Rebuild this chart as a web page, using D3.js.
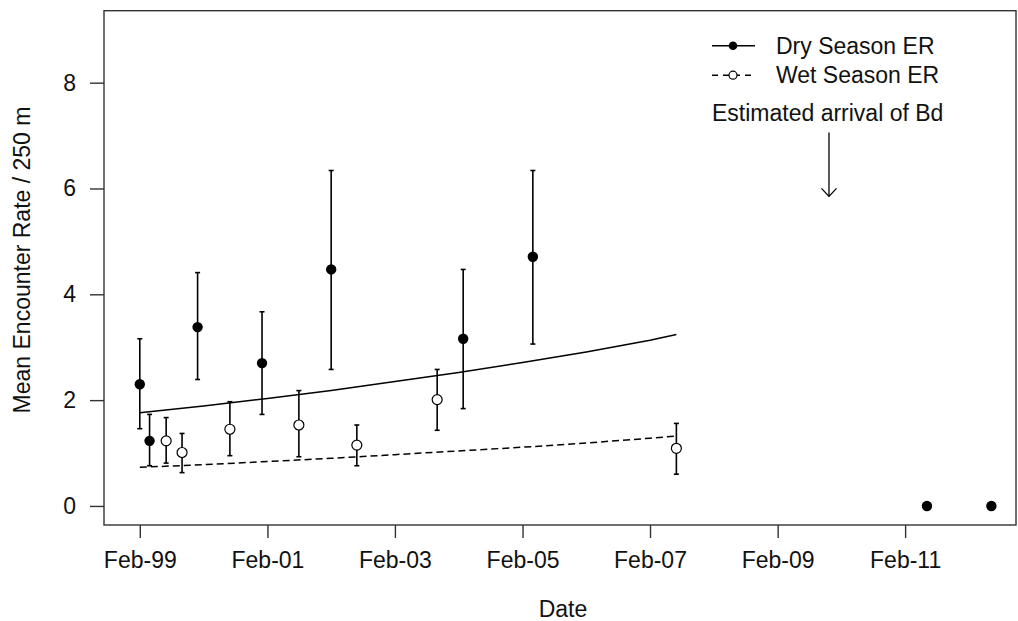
<!DOCTYPE html>
<html>
<head>
<meta charset="utf-8">
<script src="https://cdn.jsdelivr.net/npm/d3@7"></script>
<style>
  html, body { margin: 0; padding: 0; background: #fff; }
  svg { display: block; font-family: "Liberation Sans", Arial, sans-serif; }
</style>
</head>
<body>
<svg id="chart" width="1018" height="621"></svg>
<script>
// ---------- data ----------
const dryDates  = ["1999-02-01","1999-03-29","1999-12-29","2001-01-01","2002-02-01","2004-02-27","2005-04-01","2011-06-06","2012-06-09"];
const dryMean   = [2.30, 1.23, 3.38, 2.70, 4.47, 3.16, 4.71, 0, 0];
const dryLow    = [1.46, 0.76, 2.39, 1.73, 2.58, 1.84, 3.06, null, null];
const dryHigh   = [3.16, 1.73, 4.41, 3.67, 6.34, 4.47, 6.34, null, null];

const wetDates  = ["1999-07-02","1999-10-01","2000-07-01","2001-07-31","2002-06-28","2003-10-01","2007-07-02"];
const wetMean   = [1.23, 1.01, 1.45, 1.53, 1.15, 2.01, 1.09];
const wetLow    = [0.81, 0.63, 0.95, 0.93, 0.76, 1.43, 0.60];
const wetHigh   = [1.67, 1.37, 1.97, 2.18, 1.53, 2.58, 1.56];

const trendDates = ["1999-02-01","2000-02-01","2001-02-01","2002-02-01","2003-02-01","2004-02-01","2005-02-01","2006-02-01","2007-02-01","2007-07-02"];
const dryTrend   = [1.76, 1.89, 2.03, 2.18, 2.35, 2.52, 2.71, 2.91, 3.13, 3.24];
const wetTrend   = [0.73, 0.78, 0.84, 0.90, 0.97, 1.04, 1.11, 1.19, 1.28, 1.32];

const xTickDates  = ["1999-02-01","2001-02-01","2003-02-01","2005-02-01","2007-02-01","2009-02-01","2011-02-01"];
const xTickLabels = ["Feb-99","Feb-01","Feb-03","Feb-05","Feb-07","Feb-09","Feb-11"];
const yTicks      = [0, 2, 4, 6, 8];
const xDomain     = ["1998-07-11","2012-10-28"];
const yDomain     = [-0.36, 9.36];

const legendLabels = ["Dry Season ER", "Wet Season ER"];
const annotation   = "Estimated arrival of Bd";
const arrowDate    = "2009-11-22";
const arrowTop = 7.06, arrowBottom = 5.85;

// ---------- layout ----------
const parse = d3.utcParse("%Y-%m-%d");
const svg = d3.select("#chart");
const L = 104, R = 1016, T = 10.7, B = 525;
const FS = 23;

const x = d3.scaleUtc().domain(xDomain.map(parse)).range([L, R]);
const y = d3.scaleLinear().domain(yDomain).range([B, T]);

// box
svg.append("rect").attr("x", L).attr("y", T).attr("width", R - L).attr("height", B - T)
  .attr("fill", "none").attr("stroke", "#333").attr("stroke-width", 1.4);

// x axis
const xAxis = d3.axisBottom(x)
  .tickValues(xTickDates.map(parse))
  .tickFormat((d, i) => xTickLabels[i])
  .tickSize(13).tickPadding(14);
const gx = svg.append("g").attr("transform", `translate(0,${B})`).call(xAxis);
gx.select(".domain").remove();
gx.selectAll(".tick line").attr("stroke", "#333").attr("stroke-width", 1.4);
gx.selectAll(".tick text").attr("font-size", FS).attr("fill", "#111").attr("font-family", "Liberation Sans, Arial, sans-serif");

// y axis
const yAxis = d3.axisLeft(y).tickValues(yTicks).tickFormat(d3.format("d")).tickSize(14).tickPadding(14);
const gy = svg.append("g").attr("transform", `translate(${L},0)`).call(yAxis);
gy.select(".domain").remove();
gy.selectAll(".tick line").attr("stroke", "#333").attr("stroke-width", 1.4);
gy.selectAll(".tick text").attr("font-size", FS).attr("fill", "#111").attr("font-family", "Liberation Sans, Arial, sans-serif");

// axis titles
svg.append("text").attr("x", 563).attr("y", 617).attr("text-anchor", "middle")
  .attr("font-size", FS).attr("fill", "#111").text("Date");
svg.append("text").attr("transform", "translate(30,260) rotate(-90)").attr("text-anchor", "middle")
  .attr("font-size", FS).attr("fill", "#111").text("Mean Encounter Rate / 250 m");

// trend lines
const line = d3.line().x(d => x(parse(d[0]))).y(d => y(d[1]));
svg.append("path").datum(trendDates.map((d, i) => [d, dryTrend[i]]))
  .attr("d", line).attr("fill", "none").attr("stroke", "#000").attr("stroke-width", 1.5);
svg.append("path").datum(trendDates.map((d, i) => [d, wetTrend[i]]))
  .attr("d", line).attr("fill", "none").attr("stroke", "#000").attr("stroke-width", 1.5)
  .attr("stroke-dasharray", "7,4");

// error bars
function errorBars(dates, lo, hi) {
  const g = svg.append("g").attr("stroke", "#000").attr("stroke-width", 1.6);
  dates.forEach((d, i) => {
    if (lo[i] == null) return;
    const cx = x(parse(d));
    g.append("line").attr("x1", cx).attr("x2", cx).attr("y1", y(lo[i])).attr("y2", y(hi[i]));
    g.append("line").attr("x1", cx - 2.5).attr("x2", cx + 2.5).attr("y1", y(lo[i])).attr("y2", y(lo[i]));
    g.append("line").attr("x1", cx - 2.5).attr("x2", cx + 2.5).attr("y1", y(hi[i])).attr("y2", y(hi[i]));
  });
}
errorBars(dryDates, dryLow, dryHigh);
errorBars(wetDates, wetLow, wetHigh);

// points
svg.append("g").selectAll("circle").data(dryDates).join("circle")
  .attr("cx", d => x(parse(d))).attr("cy", (d, i) => y(dryMean[i])).attr("r", 5.2)
  .attr("fill", "#000");
svg.append("g").selectAll("circle").data(wetDates).join("circle")
  .attr("cx", d => x(parse(d))).attr("cy", (d, i) => y(wetMean[i])).attr("r", 5)
  .attr("fill", "#fff").attr("stroke", "#000").attr("stroke-width", 1.2);

// legend
const lg = svg.append("g");
const rowY = [45.7, 75.2];
lg.append("line").attr("x1", 712).attr("x2", 755).attr("y1", rowY[0]).attr("y2", rowY[0])
  .attr("stroke", "#000").attr("stroke-width", 1.5);
lg.append("circle").attr("cx", 733).attr("cy", rowY[0]).attr("r", 4.3).attr("fill", "#000");
lg.append("line").attr("x1", 712).attr("x2", 755).attr("y1", rowY[1]).attr("y2", rowY[1])
  .attr("stroke", "#000").attr("stroke-width", 1.5).attr("stroke-dasharray", "6,5");
lg.append("circle").attr("cx", 733).attr("cy", rowY[1]).attr("r", 4).attr("fill", "#fff")
  .attr("stroke", "#000").attr("stroke-width", 1.2);
legendLabels.forEach((t, i) => {
  lg.append("text").attr("x", 776).attr("y", rowY[i] + 8).attr("font-size", FS).attr("fill", "#111").text(t);
});

// annotation and arrow
svg.append("text").attr("x", 712).attr("y", 121).attr("font-size", FS).attr("fill", "#111").text(annotation);
const ax = x(parse(arrowDate));
const ag = svg.append("g").attr("stroke", "#000").attr("stroke-width", 1.3).attr("fill", "none");
ag.append("line").attr("x1", ax).attr("x2", ax).attr("y1", y(arrowTop)).attr("y2", y(arrowBottom));
ag.append("path").attr("d", `M${ax - 7.5},${y(arrowBottom) - 8}L${ax},${y(arrowBottom)}L${ax + 7.5},${y(arrowBottom) - 8}`);
</script>
</body>
</html>
